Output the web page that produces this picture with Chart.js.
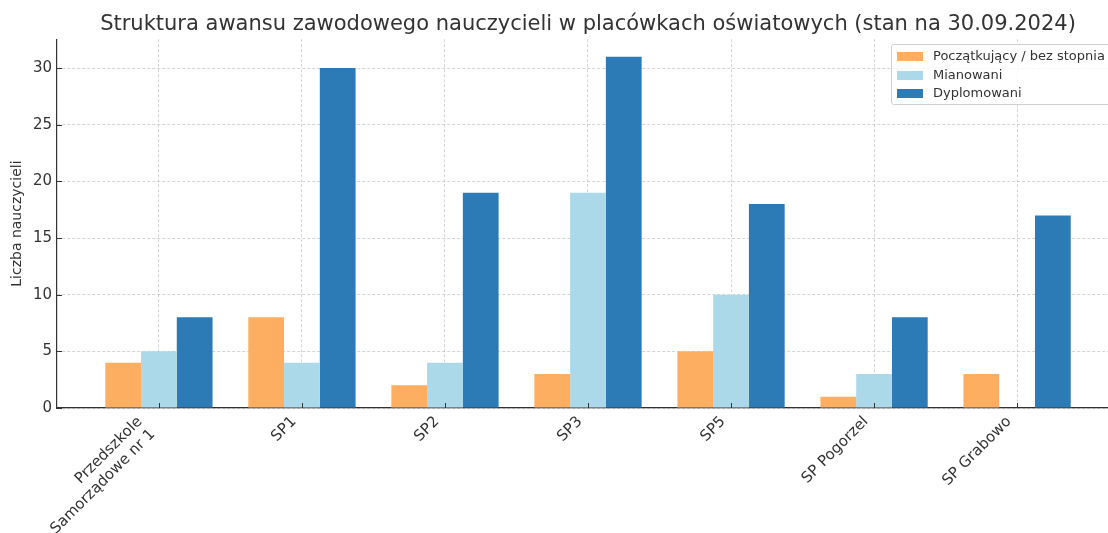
<!DOCTYPE html>
<html>
<head>
<meta charset="utf-8">
<script src="https://cdn.jsdelivr.net/npm/chart.js@4/dist/chart.umd.min.js"></script>
<style>
  html, body { margin: 0; padding: 0; background: #fff; overflow: hidden; width: 1108px; height: 533px; }
  #wrap { position: relative; width: 1125px; height: 533px; }
  #legend {
    position: absolute; left: 891px; top: 44px; width: 222px; height: 61px;
    border: 1px solid #d0d0d0; border-radius: 3px; background: rgba(255,255,255,0.8);
    font-family: 'DejaVu Sans', sans-serif; font-size: 13px; color: #333; box-sizing: border-box;
  }
  .item { position: absolute; left: 5px; height: 18px; line-height: 18px; white-space: nowrap; }
  .patch { position: absolute; left: 0; top: 5px; width: 26px; height: 9px; }
  .lbl { position: absolute; left: 36px; top: 0; }
</style>
</head>
<body>
<div id="wrap">
  <canvas id="c" width="1125" height="533"></canvas>
  <div id="legend"></div>
</div>
<script>
const categories = [['Przedszkole', 'Samorządowe nr 1'], 'SP1', 'SP2', 'SP3', 'SP5', 'SP Pogorzel', 'SP Grabowo'];
const seriesNames = ['Początkujący / bez stopnia', 'Mianowani', 'Dyplomowani'];
const poczatkujacy = [4, 8, 2, 3, 5, 1, 3];
const mianowani = [5, 4, 4, 19, 10, 3, 0];
const dyplomowani = [8, 30, 19, 31, 18, 8, 17];
const colors = ['#fdae61', '#abd9e9', '#2c7bb6'];
const yTicks = [0, 5, 10, 15, 20, 25, 30];
const titleText = 'Struktura awansu zawodowego nauczycieli w placówkach oświatowych (stan na 30.09.2024)';
const yTitle = 'Liczba nauczycieli';

Chart.defaults.font.family = "'DejaVu Sans', sans-serif";
Chart.defaults.color = '#333';

const seriesValues = [poczatkujacy, mianowani, dyplomowani];
const datasets = seriesValues.map((vals, s) => ({
  label: seriesNames[s],
  data: vals.map((v, i) => ({ x: i, y: v })),
  backgroundColor: colors[s],
  borderWidth: 0,
  categoryPercentage: 0.75,
  barPercentage: 1.0
}));

const inwardTicks = {
  id: 'inwardTicks',
  beforeDraw(chart) {
    // matplotlib-style anchoring of multi-line rotated labels: whole block right-aligned to the tick
    const xs = chart.scales.x;
    const items = xs.getLabelItems(chart.chartArea);
    items.forEach((it, i) => {
      const lines = Array.isArray(categories[i]) ? categories[i].length : 1;
      if (lines > 1) it.options.translation[0] -= 11 * (lines - 1);
    });
  },
  afterDraw(chart) {
    const ctx = chart.ctx, x = chart.scales.x, y = chart.scales.y;
    const a = chart.chartArea;
    ctx.save();
    ctx.strokeStyle = '#333';
    ctx.lineWidth = 1;
    ctx.beginPath();
    categories.forEach((c, i) => {
      const px = Math.round(x.getPixelForValue(i)) + 0.5;
      ctx.moveTo(px, a.bottom); ctx.lineTo(px, a.bottom - 5);
    });
    yTicks.forEach(v => {
      const py = Math.round(y.getPixelForValue(v)) + 0.5;
      ctx.moveTo(a.left, py); ctx.lineTo(a.left + 5, py);
    });
    ctx.stroke();
    ctx.restore();
  }
};

const chart = new Chart(document.getElementById('c'), {
  type: 'bar',
  data: { datasets },
  options: {
    responsive: false,
    animation: false,
    devicePixelRatio: 1,
    layout: { padding: { left: 0, right: 6, top: 0, bottom: 0 } },
    plugins: {
      legend: { display: false },
      tooltip: { enabled: false },
      title: {
        display: true,
        text: titleText,
        fullSize: false,
        font: { size: 21, weight: 'normal' },
        color: '#333',
        padding: { top: 12, bottom: 2 }
      }
    },
    scales: {
      x: {
        type: 'linear',
        min: -0.7125,
        max: 6.7125,
        offset: false,
        z: 1,
        afterBuildTicks(scale) { scale.ticks = categories.map((c, i) => ({ value: i })); },
        afterFit(scale) { scale.height = 125; },
        grid: { color: 'rgba(176,176,176,0.55)', lineWidth: 1, drawTicks: false, offset: false },
        border: { display: true, color: '#333', width: 1.2, dash: [3, 2] },
        ticks: {
          autoSkip: false,
          maxRotation: 45,
          minRotation: 45,
          padding: 5,
          labelOffset: -8,
          font: { size: 15 },
          color: '#333',
          callback: (v) => categories[v]
        }
      },
      y: {
        min: 0,
        max: 32.55,
        z: 1,
        afterBuildTicks(scale) { scale.ticks = yTicks.map(v => ({ value: v })); },
        afterFit(scale) { scale.width = 57; },
        grid: { color: 'rgba(176,176,176,0.55)', lineWidth: 1, drawTicks: false },
        border: { display: true, color: '#333', width: 1.2, dash: [3, 2] },
        title: {
          display: true,
          text: yTitle,
          font: { size: 14 },
          color: '#333',
          padding: { top: 9, bottom: 0 }
        },
        ticks: { padding: 5, font: { size: 15 }, color: '#333' }
      }
    }
  },
  plugins: [inwardTicks]
});

const lg = document.getElementById('legend');
seriesNames.forEach((n, s) => {
  const it = document.createElement('div');
  it.className = 'item';
  it.style.top = (2 + s * 18.5) + 'px';
  it.innerHTML = '<span class="patch" style="background:' + colors[s] + '"></span><span class="lbl"></span>';
  it.querySelector('.lbl').textContent = n;
  lg.appendChild(it);
});
</script>
</body>
</html>
